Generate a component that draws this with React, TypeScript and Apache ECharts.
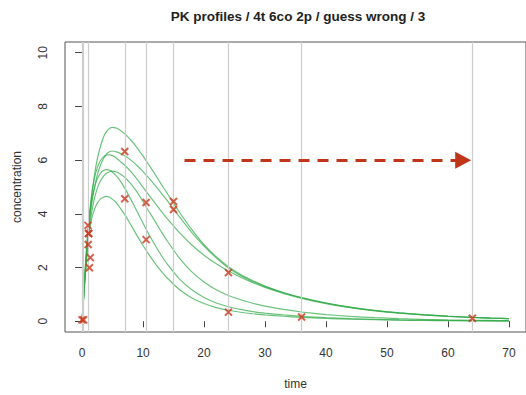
import React, { useEffect, useRef } from "react";
import * as echarts from "echarts";

const titleText = "PK profiles / 4t 6co 2p / guess wrong / 3";
const xTicks = [0, 10, 20, 30, 40, 50, 60, 70];
const yTicks = [0, 2, 4, 6, 8, 10];
const sampleTimes = [0, 0.25, 1, 7, 10.5, 15, 24, 36, 64];

const times = [0, 0.5, 1, 1.5, 2, 2.5, 3, 3.5, 4, 4.5, 5, 5.5, 6, 7, 8, 9, 10, 11, 12, 13, 14, 16, 18, 20, 22, 24, 26, 28, 30, 33, 36, 40, 44, 48, 52, 56, 60, 64, 67, 70];
const curveA = [0, 1.8, 3.3, 4.5, 5.4, 6.05, 6.5, 6.85, 7.06, 7.18, 7.22, 7.2, 7.15, 6.98, 6.75, 6.47, 6.15, 5.81, 5.46, 5.1, 4.75, 4.05, 3.41, 2.85, 2.4, 2.03, 1.74, 1.51, 1.31, 1.07, 0.88, 0.68, 0.525, 0.405, 0.315, 0.245, 0.19, 0.148, 0.122, 0.1];
const curveB = [0, 1.75, 3.2, 4.25, 4.95, 5.45, 5.8, 6.05, 6.22, 6.31, 6.34, 6.32, 6.28, 6.16, 6.0, 5.8, 5.57, 5.32, 5.05, 4.77, 4.48, 3.88, 3.3, 2.8, 2.36, 1.98, 1.7, 1.48, 1.29, 1.06, 0.875, 0.675, 0.52, 0.4, 0.31, 0.24, 0.186, 0.145, 0.12, 0.1];
const curveC = [0, 1.9, 3.5, 4.6, 5.3, 5.72, 5.98, 6.12, 6.19, 6.2, 6.17, 6.1, 6.0, 5.81, 5.57, 5.29, 4.99, 4.69, 4.39, 4.09, 3.81, 3.29, 2.84, 2.46, 2.14, 1.87, 1.64, 1.44, 1.26, 1.04, 0.855, 0.66, 0.51, 0.39, 0.3, 0.235, 0.18, 0.14, 0.115, 0.095];
const curveD = [0, 1.9, 3.45, 4.4, 4.95, 5.3, 5.5, 5.61, 5.65, 5.63, 5.55, 5.44, 5.31, 4.96, 4.54, 4.1, 3.65, 3.22, 2.82, 2.45, 2.12, 1.57, 1.17, 0.885, 0.68, 0.54, 0.44, 0.36, 0.3, 0.235, 0.183, 0.134, 0.098, 0.072, 0.053, 0.039, 0.028, 0.021, 0.017, 0.013];
const curveE = [0, 1.6, 3.0, 3.95, 4.55, 4.95, 5.22, 5.4, 5.51, 5.57, 5.59, 5.57, 5.52, 5.36, 5.12, 4.82, 4.45, 4.08, 3.71, 3.33, 2.98, 2.34, 1.84, 1.46, 1.17, 0.96, 0.8, 0.67, 0.565, 0.44, 0.345, 0.25, 0.183, 0.133, 0.097, 0.071, 0.052, 0.038, 0.03, 0.024];
const curveF = [0, 1.7, 3.05, 3.75, 4.15, 4.4, 4.55, 4.62, 4.65, 4.62, 4.54, 4.44, 4.3, 3.97, 3.59, 3.2, 2.82, 2.47, 2.15, 1.86, 1.6, 1.17, 0.87, 0.66, 0.51, 0.41, 0.335, 0.28, 0.236, 0.186, 0.146, 0.107, 0.078, 0.057, 0.042, 0.031, 0.022, 0.016, 0.013, 0.01];
const curves = [curveA, curveB, curveC, curveD, curveE, curveF];

const obsTime = [0, 0.25, 0.97, 1.05, 1.1, 1.0, 1.35, 1.2, 7, 7, 10.5, 10.5, 15, 15, 24, 24, 36, 64];
const obsConc = [0.05, 0.05, 3.57, 3.27, 3.27, 2.86, 2.37, 1.99, 6.32, 4.56, 4.42, 3.04, 4.46, 4.16, 1.81, 0.34, 0.16, 0.11];

const arrowStart = [16.8, 6];
const arrowEnd = [62.5, 6];

const FONT = "Liberation Sans, Arial, sans-serif";

export default function App() {
  const ref = useRef<HTMLDivElement>(null);
  useEffect(() => {
    if (!ref.current) return;
    const chart = echarts.init(ref.current, null, { renderer: "svg" });
    const lineSeries = curves.map((c) => ({
      type: "line",
      data: times.map((t, i) => [t, c[i]]),
      smooth: 0.2,
      showSymbol: false,
      symbol: "none",
      lineStyle: { color: "rgba(45,170,70,0.7)", width: 1.2 },
      z: 3,
      silent: true,
    }));
    chart.setOption({
      animation: false,
      textStyle: { fontFamily: FONT },
      graphic: [
        {
          type: "text",
          x: 298,
          y: 16,
          style: {
            text: titleText,
            fill: "#222",
            font: "bold 13.5px " + FONT,
            textAlign: "center",
            textVerticalAlign: "middle",
          },
        },
      ],
      grid: {
        left: 65,
        top: 42,
        width: 469,
        height: 298,
        show: true,
        borderColor: "#555",
        borderWidth: 1,
        backgroundColor: "transparent",
      },
      xAxis: {
        type: "value",
        min: -2.8,
        max: 72.8,
        name: "time",
        nameLocation: "middle",
        nameGap: 46,
        nameTextStyle: { color: "#333", fontSize: 12, fontFamily: FONT },
        axisLine: { show: false },
        axisTick: { show: true, length: 6, customValues: xTicks, lineStyle: { color: "#444" } },
        axisLabel: { customValues: xTicks, color: "#333", fontSize: 12, margin: 15, fontFamily: FONT },
        splitLine: { show: false },
      },
      yAxis: {
        type: "value",
        min: -0.4,
        max: 10.4,
        name: "concentration",
        nameLocation: "middle",
        nameGap: 42,
        nameTextStyle: { color: "#333", fontSize: 12, fontFamily: FONT },
        axisLine: { show: false },
        axisTick: { show: true, length: 7, customValues: yTicks, lineStyle: { color: "#444" } },
        axisLabel: { customValues: yTicks, rotate: 90, color: "#333", fontSize: 12, margin: 16, fontFamily: FONT },
        splitLine: { show: false },
      },
      series: [
        {
          type: "line",
          data: [],
          z: 1,
          markLine: {
            silent: true,
            symbol: "none",
            label: { show: false },
            lineStyle: { color: "#cdcdcd", width: 1.2, type: "solid" },
            data: sampleTimes.map((t) => ({ xAxis: t })),
          },
        },
        ...lineSeries,
        {
          type: "scatter",
          data: obsTime.map((t, i) => [t, obsConc[i]]),
          symbol: "path://M0,0L10,10M10,0L0,10",
          symbolSize: 7,
          itemStyle: { color: "transparent", borderColor: "#cc3a1e", borderWidth: 2 },
          z: 5,
          silent: true,
        },
        {
          type: "line",
          data: [],
          z: 6,
          markLine: {
            silent: true,
            symbol: ["none", "triangle"],
            symbolSize: [17, 16],
            label: { show: false },
            lineStyle: { color: "#c0361a", width: 3, type: [11, 8], opacity: 1 },
            itemStyle: { color: "#c0361a" },
            data: [[{ coord: arrowStart }, { coord: arrowEnd }]],
          },
        },
      ],
    });
    return () => chart.dispose();
  }, []);
  return <div ref={ref} style={{ width: 526, height: 395, position: "absolute", left: 0, top: 0 }} />;
}
